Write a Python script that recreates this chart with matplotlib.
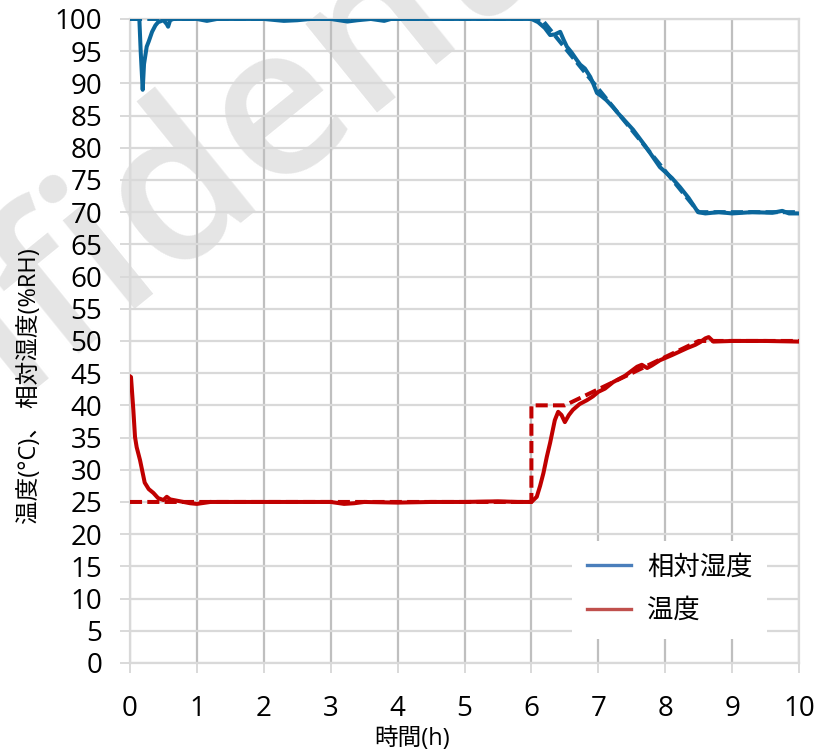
import matplotlib
matplotlib.use('Agg')
import matplotlib.pyplot as plt
from matplotlib.lines import Line2D

# 相対湿度 (measured), hours / %RH
rh_time = [0, 0.14, 0.16, 0.19, 0.21, 0.25, 0.28, 0.33, 0.38, 0.42, 0.5, 0.55, 0.57, 0.6, 0.65,
           1.0, 1.15, 1.3, 1.5, 2.0, 2.3, 2.5, 2.7, 3.0, 3.25, 3.4, 3.6, 3.8, 3.9, 4.0, 4.5, 5.0,
           5.5, 6.0, 6.1, 6.2, 6.28, 6.35, 6.43, 6.48, 6.53, 6.6, 6.68, 6.73, 6.8, 6.88, 6.93,
           6.98, 7.05, 7.12, 7.22, 7.3, 7.52, 7.7, 7.92, 8.1, 8.22, 8.35, 8.49, 8.6, 8.8, 9.0,
           9.3, 9.6, 9.75, 9.85, 10.0]
rh_value = [100, 100, 95, 89, 93, 95.7, 96.5, 98, 99, 99.5, 99.8, 99.2, 98.8, 99.8, 100,
            100, 99.7, 100, 100, 100, 99.7, 99.8, 100, 100, 99.6, 99.8, 100, 99.7, 100, 100, 100, 100,
            100, 100, 99.5, 98.6, 97.5, 97.6, 98.0, 96.8, 95.7, 94.8, 93.6, 92.9, 92.3, 91.0, 89.8,
            88.5, 88.0, 87.4, 86.3, 85.3, 82.8, 80.3, 77.0, 75.3, 73.9, 72.2, 70.0, 69.8, 70.0, 69.8,
            70.0, 69.9, 70.2, 69.8, 69.8]

# 相対湿度 set point
rh_set_time = [0, 6.15, 8.5, 10]
rh_set_value = [100, 100, 70, 70]

# 温度 (measured), hours / degC
temp_time = [0, 0.015, 0.05, 0.075, 0.1, 0.15, 0.22, 0.28, 0.35, 0.42, 0.5, 0.55, 0.6, 0.7,
             0.9, 1.0, 1.2, 1.5, 2.0, 2.5, 3.0, 3.2, 3.35, 3.5, 4.0, 4.5, 5.0, 5.5, 5.8, 6.0,
             6.08, 6.13, 6.18, 6.23, 6.28, 6.35, 6.40, 6.45, 6.5, 6.56, 6.62, 6.72, 6.83, 6.92,
             7.0, 7.1, 7.22, 7.4, 7.58, 7.65, 7.73, 7.8, 7.92, 8.1, 8.33, 8.45, 8.52, 8.6, 8.65,
             8.72, 9.0, 9.5, 10]
temp_value = [44.5, 44.4, 39.3, 35.1, 33.5, 31.5, 28.0, 27.0, 26.4, 25.6, 25.3, 25.8, 25.4, 25.2,
              24.8, 24.7, 25.0, 25.0, 25.0, 25.0, 25.0, 24.7, 24.8, 25.0, 24.9, 25.0, 25.0, 25.1, 25.0, 25.0,
              25.8, 27.5, 29.5, 32.0, 34.2, 37.7, 39.0, 38.5, 37.4, 38.5, 39.3, 40.2, 40.8, 41.4,
              42.1, 42.6, 43.6, 44.6, 46.0, 46.3, 45.8, 46.2, 47.0, 47.8, 48.9, 49.4, 49.8, 50.4, 50.6,
              49.9, 50.0, 50.0, 49.9]

# 温度 set point
temp_set_time = [0, 6.0, 6.0, 6.5, 8.5, 10]
temp_set_value = [25, 25, 40, 40, 50, 50]

x_ticks = list(range(0, 11))
y_ticks = list(range(0, 101, 5))

plt.rcParams['font.family'] = ['Open Sans', 'Noto Sans CJK JP', 'DejaVu Sans']

fig = plt.figure(figsize=(8.17, 7.52), dpi=100)
ax = fig.add_axes([0.1591, 0.1184, 0.8189, 0.8564])
ax.set_facecolor('none')

blue = '#0b679c'
red = '#c00000'

# set points first so the measured traces sit on top
ax.plot(rh_set_time, rh_set_value, color=blue, lw=2.9, dashes=(3, 1.3), zorder=2.6)
ax.plot(rh_time, rh_value, color=blue, lw=2.9, solid_joinstyle='round', zorder=3)
ax.plot(temp_time, temp_value, color=red, lw=2.9, solid_joinstyle='round', zorder=3)
ax.plot(temp_set_time, temp_set_value, color=red, lw=2.9, dashes=(3, 1.3), zorder=3.1)

ax.set_xlim(0, 10)
ax.set_ylim(0, 100)
ax.set_xticks(x_ticks)
ax.set_yticks(y_ticks)
ax.xaxis.grid(True, color='#bfbfbf', lw=1.6)
ax.yaxis.grid(True, color='#d9d9d9', lw=1.6)
ax.set_axisbelow(True)
for side in ['left', 'right', 'top', 'bottom']:
    ax.spines[side].set_color('#d9d9d9')
    ax.spines[side].set_linewidth(1.6)

ax.tick_params(axis='both', direction='out', length=7, width=1.4, color='#d9d9d9')
ax.tick_params(axis='y', labelsize=20, pad=13)
ax.tick_params(axis='x', labelsize=20, pad=16)

fig.text(30 / 817, 1 - 386 / 752, '温度(°C)、 相対湿度(%RH)', rotation=90,
         ha='center', va='center', fontsize=17)
fig.text(412 / 817, 1 - 739 / 752, '時間(h)', ha='center', va='center', fontsize=17)

# background stamp
fig.text(200 / 817, 1 - 176 / 752, 'Confidential', rotation=39, rotation_mode='anchor',
         ha='center', va='center', fontsize=152, fontweight='semibold', color='#e5e5e5',
         zorder=-1)

handles = [Line2D([], [], color='#4a7ebb', lw=2.4),
           Line2D([], [], color='#c0504d', lw=2.4)]
leg = ax.legend(handles, ['相対湿度', '温度'], loc='upper left',
                bbox_to_anchor=(572 / 817, 1 - 541 / 752), bbox_transform=fig.transFigure,
                fontsize=19, frameon=True, fancybox=False, framealpha=1, edgecolor='none',
                handlelength=1.7, handletextpad=0.6, borderpad=0.55, labelspacing=0.7,
                borderaxespad=0)
leg.set_zorder(5)

fig.savefig('out.png', dpi=100)
